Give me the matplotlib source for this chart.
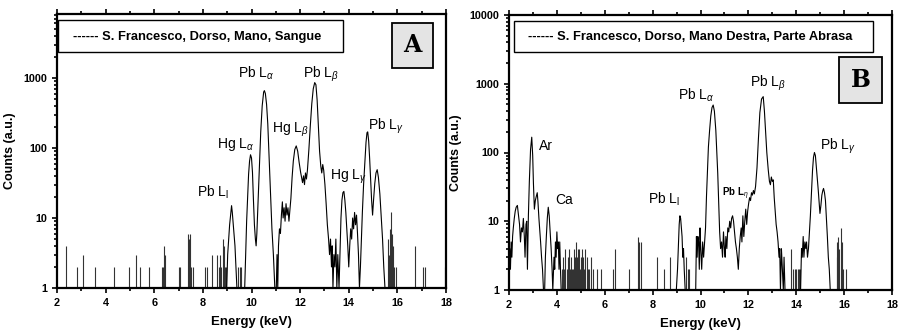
import matplotlib
matplotlib.use('Agg')
import matplotlib.pyplot as plt
from matplotlib.patches import Rectangle
from matplotlib.ticker import FixedLocator, MultipleLocator, LogLocator, NullFormatter

plt.rcParams['font.family'] = ['Liberation Sans', 'DejaVu Sans']
plt.rcParams['mathtext.fontset'] = 'custom'
plt.rcParams['mathtext.rm'] = 'Liberation Sans'
plt.rcParams['mathtext.it'] = 'Liberation Sans:italic'

## Panel A - S. Francesco, Dorso, Mano, Sangue
a_energy = [8.98, 9.02, 9.06, 9.10, 9.14, 9.18, 9.21, 9.24, 9.28, 9.32, 9.36, 9.40,
            9.72, 9.76, 9.80, 9.84, 9.88, 9.92, 9.96, 10.00, 10.04, 10.08, 10.12, 10.16,
            10.19, 10.22, 10.26, 10.30, 10.34, 10.38, 10.44, 10.50, 10.53, 10.57, 10.62,
            10.67, 10.72, 10.78, 10.84, 10.90, 10.96, 11.02, 11.05, 11.08, 11.11, 11.15,
            11.19, 11.23, 11.27, 11.30, 11.34, 11.38, 11.42, 11.46, 11.50, 11.54, 11.58,
            11.62, 11.67, 11.72, 11.78, 11.84, 11.90, 11.96, 12.02, 12.06, 12.10, 12.14,
            12.18, 12.22, 12.26, 12.30, 12.36, 12.42, 12.48, 12.54, 12.60, 12.65, 12.70,
            12.75, 12.80, 12.85, 12.89, 12.93, 12.97, 13.02, 13.07, 13.12, 13.17, 13.21,
            13.25, 13.29, 13.32, 13.35, 13.39, 13.43, 13.47, 13.51, 13.55, 13.60, 13.64,
            13.68, 13.72, 13.76, 13.80, 13.84, 13.88, 13.92, 13.96, 14.00, 14.04, 14.08,
            14.12, 14.16, 14.20, 14.24, 14.28, 14.32, 14.36, 14.40, 14.44, 14.48, 14.52,
            14.56, 14.61, 14.66, 14.71, 14.75, 14.78, 14.82, 14.86, 14.90, 14.94, 14.98,
            15.02, 15.07, 15.12, 15.17, 15.22, 15.28, 15.34, 15.39, 15.44, 15.49]
a_counts = [1, 3, 5, 8, 11, 15, 12, 9, 6, 4, 2, 1,
            1, 3, 9, 20, 42, 65, 80, 72, 45, 18, 8, 5,
            4, 6, 14, 35, 80, 170, 400, 630, 660, 600, 420,
            220, 80, 25, 7, 3, 1, 1, 3, 1, 4, 7,
            6, 11, 17, 10, 14, 9, 16, 11, 14, 9, 13,
            19, 38, 65, 95, 107, 90, 62, 45, 38, 32, 40,
            30, 44, 36, 48, 95, 210, 430, 700, 860, 800, 480,
            200, 90, 55, 44, 58, 48, 30, 16, 8, 5, 3,
            5, 2, 4, 1, 3, 2, 5, 1, 3, 1, 3,
            10, 18, 23, 24, 18, 12, 7, 4, 2, 4, 7,
            5, 10, 7, 12, 8, 11, 6, 3, 1, 2, 5,
            12, 30, 60, 120, 165, 170, 125, 70, 35, 18, 11,
            18, 31, 44, 49, 38, 22, 10, 5, 2, 1]
a_spike_e = [2.36, 2.84, 3.06, 3.58, 4.36, 4.97, 5.26, 5.40, 5.79, 6.31, 6.35, 6.40,
             6.45, 7.00, 7.05, 7.40, 7.44, 7.48, 7.52, 7.60, 8.07, 8.18, 8.39, 8.57,
             8.66, 8.70, 8.75, 8.81, 8.86, 8.90, 8.95, 9.46, 9.52, 9.56, 15.60, 15.66,
             15.70, 15.75, 15.78, 15.82, 15.86, 15.94, 16.73, 17.04, 17.14, 17.97]
a_spike_h = [4, 2, 3, 2, 2, 2, 3, 2, 2, 2, 2, 4,
             3, 2, 2, 6, 5, 6, 2, 2, 2, 2, 3, 3,
             2, 3, 2, 5, 4, 2, 2, 2, 2, 2, 5, 3,
             7, 12, 6, 4, 2, 2, 4, 2, 2, 2]

## Panel B - S. Francesco, Dorso, Mano Destra, Parte Abrasa
b_energy = [2.00, 2.03, 2.06, 2.09, 2.12, 2.15, 2.18, 2.22, 2.26, 2.30, 2.35, 2.40,
            2.44, 2.48, 2.52, 2.56, 2.60, 2.64, 2.67, 2.71, 2.74, 2.77, 2.81, 2.85,
            2.90, 2.95, 2.99, 3.02, 3.06, 3.10, 3.14, 3.18, 3.21, 3.25, 3.29, 3.32,
            3.36, 3.40, 3.44, 3.49, 3.52, 3.56, 3.60, 3.64, 3.68, 3.72, 3.76, 3.80,
            3.83, 3.88, 3.91, 3.94, 3.97, 4.00, 4.03, 4.06, 4.09, 4.12, 4.15, 4.18,
            8.99, 9.04, 9.08, 9.11, 9.14, 9.17, 9.20, 9.23, 9.26, 9.29, 9.32, 9.36,
            9.80, 9.83, 9.86, 9.89, 9.92, 9.95, 9.98, 10.01, 10.05, 10.09, 10.13, 10.17,
            10.21, 10.25, 10.29, 10.33, 10.38, 10.43, 10.48, 10.53, 10.58, 10.64, 10.68,
            10.72, 10.76, 10.80, 10.84, 10.88, 10.92, 10.96, 11.00, 11.03, 11.06, 11.10,
            11.14, 11.18, 11.22, 11.26, 11.30, 11.34, 11.38, 11.42, 11.46, 11.50, 11.54,
            11.58, 11.62, 11.66, 11.70, 11.73, 11.77, 11.81, 11.85, 11.89, 11.93, 11.97,
            12.01, 12.05, 12.09, 12.13, 12.17, 12.21, 12.25, 12.30, 12.36, 12.42, 12.48,
            12.55, 12.62, 12.67, 12.72, 12.77, 12.83, 12.88, 12.92, 12.96, 13.00, 13.04,
            13.08, 13.12, 13.16, 13.20, 13.24, 13.28, 13.31, 13.34, 13.38, 13.42, 13.46,
            13.49, 13.53, 14.18, 14.22, 14.25, 14.29, 14.32, 14.36, 14.40, 14.43, 14.47,
            14.51, 14.55, 14.59, 14.64, 14.68, 14.72, 14.76, 14.80, 14.85, 14.89, 14.92,
            14.96, 14.99, 15.03, 15.07, 15.11, 15.14, 15.18, 15.22, 15.26, 15.30, 15.34,
            15.38, 15.42]
b_counts = [2, 4, 2, 5, 3, 6, 8, 11, 14, 16, 17, 12,
            9, 5, 8, 7, 11, 6, 3, 9, 10, 2, 12, 38,
            110, 167, 90, 36, 15, 20, 23, 26, 19, 11, 7, 5,
            3, 2, 1, 1, 3, 6, 11, 16, 12, 7, 4, 2,
            1, 3, 2, 5, 3, 7, 4, 5, 2, 5, 2, 1,
            1, 2, 5, 9, 12, 11, 8, 6, 3, 4, 2, 1,
            1, 6, 3, 6, 5, 2, 8, 4, 2, 5, 3, 5,
            8, 23, 55, 120, 210, 340, 450, 490, 400, 210, 100,
            50, 18, 7, 4, 5, 3, 7, 4, 3, 6, 4,
            8, 7, 10, 8, 11, 12, 10, 7, 5, 4, 3,
            2, 4, 6, 8, 5, 12, 6, 10, 15, 9, 14,
            18, 22, 20, 26, 24, 28, 25, 32, 60, 160, 380,
            600, 650, 400, 200, 100, 56, 38, 34, 44, 38, 40,
            22, 14, 9, 7, 5, 3, 4, 1, 4, 2, 1,
            3, 1, 1, 4, 3, 6, 3, 5, 4, 5, 3,
            4, 7, 12, 28, 55, 85, 100, 90, 56, 38, 28,
            18, 13, 17, 24, 28, 30, 26, 20, 11, 6, 3,
            2, 1]
b_spike_e = [4.22, 4.27, 4.31, 4.35, 4.41, 4.45, 4.49, 4.53, 4.58, 4.62, 4.66, 4.71,
             4.76, 4.80, 4.85, 4.88, 4.91, 4.97, 5.00, 5.04, 5.10, 5.14, 5.17, 5.24,
             5.28, 5.33, 5.41, 5.50, 5.66, 5.84, 6.36, 6.43, 7.00, 7.37, 7.43, 7.52,
             8.17, 8.47, 8.72, 9.39, 9.46, 9.53, 13.80, 13.85, 13.95, 14.01, 14.08,
             14.12, 14.15, 15.69, 15.72, 15.76, 15.80, 15.86, 15.90, 15.94, 16.08]
b_spike_h = [2, 3, 2, 4, 2, 3, 4, 2, 3, 2, 2, 4,
             3, 5, 3, 4, 4, 2, 3, 4, 3, 2, 4, 3,
             2, 2, 3, 2, 2, 2, 2, 4, 2, 6, 5, 5,
             3, 2, 3, 3, 2, 2, 4, 2, 2, 2, 2,
             2, 2, 3, 5, 6, 4, 8, 5, 2, 2]

## Peak labels: text, energy, counts (left/baseline anchor)
a_labels = ['Pb L$_\\alpha$', 'Pb L$_\\beta$', 'Hg L$_\\beta$', 'Hg L$_\\alpha$',
            'Pb L$_\\gamma$', 'Pb L$_\\mathrm{l}$', 'Hg L$_\\gamma$']
a_label_e = [9.45, 12.12, 10.85, 8.58, 14.80, 7.76, 13.23]
a_label_c = [1000, 1000, 168, 100, 181, 20, 35]

b_labels = ['Ar', 'Ca', 'Pb L$_\\mathrm{l}$', 'Pb L$_\\alpha$', 'Pb L$_\\beta$', 'Pb L$_\\gamma$']
b_label_e = [3.25, 3.92, 7.81, 9.06, 12.07, 14.99]
b_label_c = [109, 18, 18, 580, 897, 109]

W, H = 898, 334


def style_axes(ax, ytop, yticks):
    ax.set_yscale('log')
    ax.set_xlim(2, 18)
    ax.set_ylim(1, ytop)
    ax.xaxis.set_major_locator(MultipleLocator(2))
    ax.xaxis.set_minor_locator(MultipleLocator(1))
    ax.yaxis.set_major_locator(FixedLocator(yticks))
    ax.set_yticklabels([str(t) for t in yticks])
    ax.yaxis.set_minor_locator(LogLocator(base=10, subs=range(2, 10)))
    ax.yaxis.set_minor_formatter(NullFormatter())
    ax.tick_params(which='both', direction='out', top=True, right=False,
                   width=1.2, labelsize=7.8)
    ax.tick_params(which='major', length=3.5)
    ax.tick_params(which='minor', length=2)
    for lab in ax.get_xticklabels() + ax.get_yticklabels():
        lab.set_fontweight('bold')
    for sp in ax.spines.values():
        sp.set_linewidth(1.6)
    ax.set_xlabel('Energy (keV)', fontsize=9.5, fontweight='bold', labelpad=6)
    ax.set_ylabel('Counts (a.u.)', fontsize=9, fontweight='bold', labelpad=5)


def fig_box(fig, x0, y0, x1, y1, **kw):
    rect = Rectangle((x0 / W, 1 - y1 / H), (x1 - x0) / W, (y1 - y0) / H,
                     transform=fig.transFigure, **kw)
    fig.patches.append(rect)


def plot_panel(ax, energy, counts, spike_e, spike_h, labels, label_e, label_c):
    ax.vlines(spike_e, 1, spike_h, color='0.2', lw=0.8)
    ax.plot(energy, counts, color='black', lw=0.8)
    for t, e, c in zip(labels, label_e, label_c):
        ax.text(e, c, t, fontsize=10, ha='left', va='baseline')


def main():
    fig = plt.figure(figsize=(W / 100, H / 100), dpi=100)

    ax_a = fig.add_axes([57 / W, 1 - 288 / H, (446 - 57) / W, (288 - 14) / H])
    plot_panel(ax_a, a_energy, a_counts, a_spike_e, a_spike_h,
               a_labels, a_label_e, a_label_c)
    style_axes(ax_a, 8200, [1, 10, 100, 1000])

    ax_b = fig.add_axes([509 / W, 1 - 290 / H, (892 - 509) / W, (290 - 15) / H])
    plot_panel(ax_b, b_energy, b_counts, b_spike_e, b_spike_h,
               b_labels, b_label_e, b_label_c)
    ax_b.text(10.9, 23, 'Pb L$_\\eta$', fontsize=7, fontweight='bold',
              ha='left', va='baseline')
    style_axes(ax_b, 10000, [1, 10, 100, 1000, 10000])

    ## legend boxes
    fig_box(fig, 58, 20, 343, 52, facecolor='white', edgecolor='black', lw=1.0)
    fig.text(73 / W, 1 - 37 / H, '------ S. Francesco, Dorso, Mano, Sangue',
             fontsize=9.3, fontweight='bold', va='center')
    fig_box(fig, 514, 21, 873, 52, facecolor='white', edgecolor='black', lw=1.0)
    fig.text(528 / W, 1 - 37 / H, '------ S. Francesco, Dorso, Mano Destra, Parte Abrasa',
             fontsize=9.3, fontweight='bold', va='center')

    ## panel letters
    fig_box(fig, 392, 23, 433, 68, facecolor='#e4e4e4', edgecolor='black', lw=1.3)
    fig.text(412.5 / W, 1 - 45.5 / H, 'A', fontsize=17, fontweight='bold',
             family='DejaVu Serif', ha='center', va='center')
    fig_box(fig, 839, 57, 882, 103, facecolor='#e4e4e4', edgecolor='black', lw=1.3)
    fig.text(860.5 / W, 1 - 80 / H, 'B', fontsize=17, fontweight='bold',
             family='DejaVu Serif', ha='center', va='center')

    fig.savefig('out.png', dpi=100)


if __name__ == '__main__':
    main()
